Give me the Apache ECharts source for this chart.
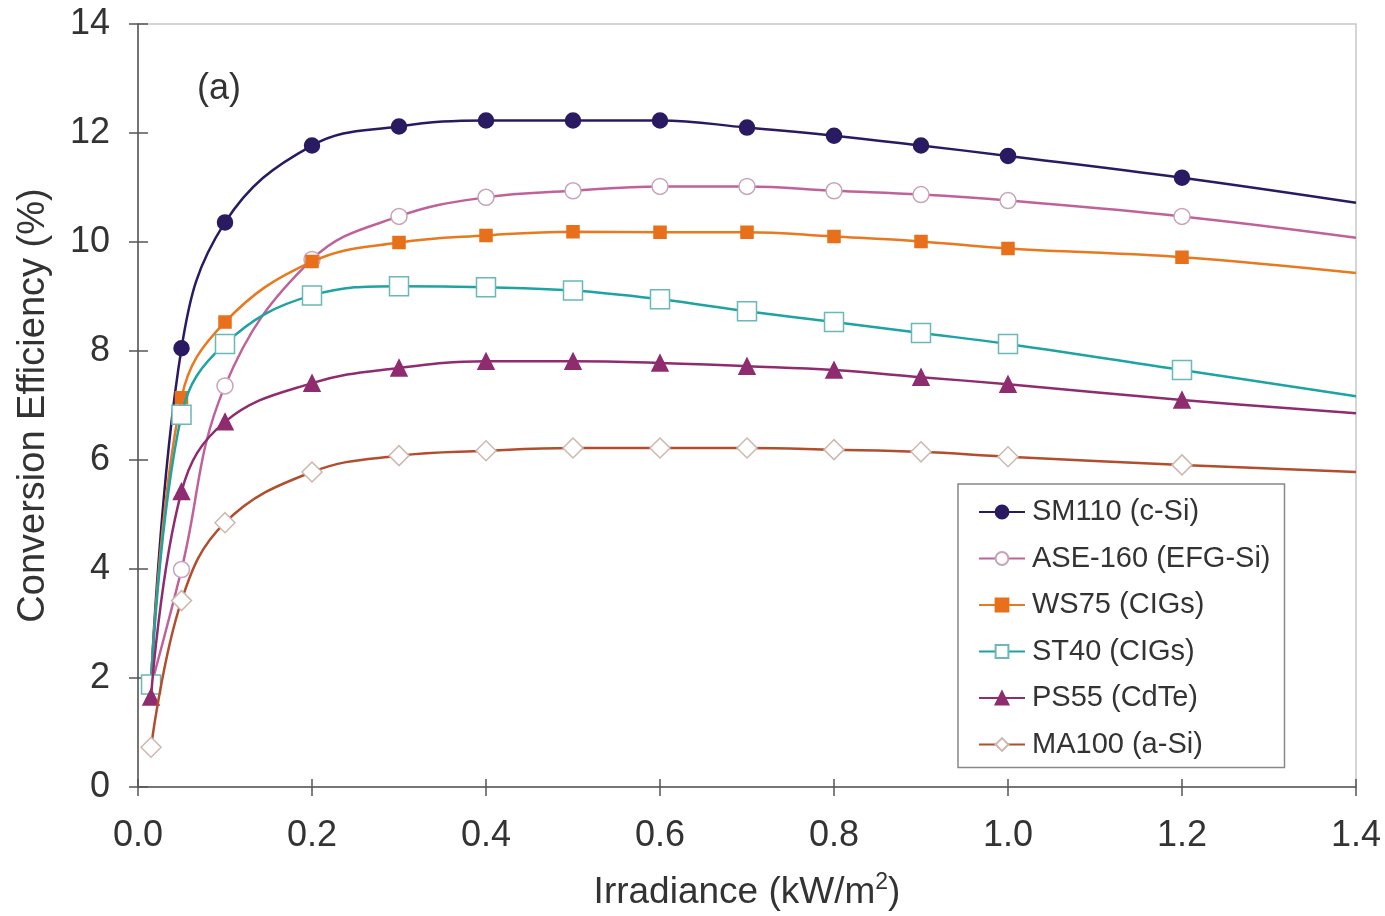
<!DOCTYPE html>
<html><head><meta charset="utf-8">
<script src="https://cdn.jsdelivr.net/npm/echarts@6/dist/echarts.min.js"></script>
<style>html,body{margin:0;padding:0;background:#fff}#c{width:1385px;height:916px}</style>
</head><body><div id="c"></div>
<script>
const irradiance = [0.015, 0.05, 0.1, 0.2, 0.3, 0.4, 0.5, 0.6, 0.7, 0.8, 0.9, 1.0, 1.2, 1.4];
const sm110 = [1.9, 8.05, 10.36, 11.77, 12.12, 12.23, 12.23, 12.23, 12.1, 11.95, 11.77, 11.58, 11.18, 10.72];
const ase160 = [1.85, 3.99, 7.36, 9.68, 10.47, 10.82, 10.94, 11.02, 11.02, 10.94, 10.87, 10.76, 10.47, 10.08];
const ws75 = [1.9, 7.14, 8.53, 9.64, 9.99, 10.12, 10.19, 10.18, 10.18, 10.1, 10.01, 9.88, 9.72, 9.43];
const st40 = [1.88, 6.83, 8.13, 9.02, 9.19, 9.17, 9.11, 8.95, 8.73, 8.53, 8.33, 8.13, 7.65, 7.17];
const ps55 = [1.65, 5.42, 6.7, 7.41, 7.69, 7.81, 7.81, 7.78, 7.72, 7.65, 7.52, 7.39, 7.1, 6.86];
const ma100 = [0.73, 3.42, 4.85, 5.78, 6.08, 6.17, 6.22, 6.22, 6.22, 6.19, 6.15, 6.06, 5.91, 5.78];
const seriesNames = ['SM110 (c-Si)', 'ASE-160 (EFG-Si)', 'WS75 (CIGs)', 'ST40 (CIGs)', 'PS55 (CdTe)', 'MA100 (a-Si)'];

const FONT = '"Liberation Sans", Arial, sans-serif';
const styles = [
  {line:'#2a1a62', symbol:'circle', size:15, fill:'#2a1a62', border:'#2a1a62'},
  {line:'#c0629a', symbol:'circle', size:16, fill:'#ffffff', border:'#c8a3b9'},
  {line:'#e8791f', symbol:'rect', size:12, fill:'#e8701a', border:'#e8701a'},
  {line:'#1ea3a3', symbol:'rect', size:19, fill:'#ffffff', border:'#6ab8b8'},
  {line:'#8f2c6f', symbol:'triangle', size:16, fill:'#8f2c6f', border:'#8f2c6f'},
  {line:'#b24d2d', symbol:'diamond', size:20, fill:'#ffffff', border:'#cdb8b0'}
];
const allData = [sm110, ase160, ws75, st40, ps55, ma100];

function buildData(vals){
  return irradiance.map((x,i)=> i === irradiance.length-1
    ? {value:[x, vals[i]], symbol:'none'}
    : [x, vals[i]]);
}

const series = allData.map((vals, k) => ({
  name: seriesNames[k],
  type: 'line',
  data: buildData(vals),
  smooth: 0.4,
  showAllSymbol: true,
  symbol: styles[k].symbol,
  symbolSize: styles[k].size,
  lineStyle: {color: styles[k].line, width: 2.5},
  itemStyle: {color: styles[k].fill, borderColor: styles[k].border, borderWidth: 1.5},
  emphasis: {disabled: true},
  xAxisIndex: 0, yAxisIndex: 0,
  z: 2 + k
}));

const chart = echarts.init(document.getElementById('c'), null, {renderer:'canvas'});
chart.setOption({
  animation: false,
  backgroundColor: '#ffffff',
  textStyle: {fontFamily: FONT},
  grid: {left: 138, right: 29, top: 24, bottom: 127, show: true, borderColor: '#c8c8c8', borderWidth: 1.5},
  legend: {
    show: true,
    orient: 'vertical',
    left: 958, top: 484,
    padding: [12, 14, 7, 20],
    itemWidth: 46, itemHeight: 16,
    itemGap: 14.5,
    borderColor: '#888888', borderWidth: 1.5,
    backgroundColor: '#ffffff',
    textStyle: {fontFamily: FONT, fontSize: 29, color: '#333333', lineHeight: 32, padding:[0,0,0,2]},
    data: seriesNames
  },
  graphic: [{
    type: 'text', left: 197, top: 71,
    style: {text: '(a)', font: '36px ' + FONT, fill: '#333333'}
  }],
  xAxis: [{
    type: 'value', min: 0, max: 1.4, interval: 0.2,
    axisLine: {show: true, lineStyle: {color: '#555555', width: 1.5}},
    axisTick: {show: true, length: 9, lineStyle: {color: '#555555', width: 1.5}},
    splitLine: {show: false},
    axisLabel: {fontSize: 36, color: '#333333', margin: 31, fontFamily: FONT,
      formatter: v => v.toFixed(1)},
    name: 'Irradiance (kW/m{sup|2})',
    nameLocation: 'middle', nameGap: 84,
    nameTextStyle: {fontSize: 37, color: '#333333', fontFamily: FONT,
      rich: {sup: {fontSize: 23, color: '#333333', fontFamily: FONT, verticalAlign: 'top', padding:[0,0,20,0]}}}
  }, {
    type: 'value', min: 0, max: 1.4, interval: 0.2, position: 'bottom',
    axisLine: {show: false},
    axisTick: {show: true, inside: true, length: 8, lineStyle: {color: '#555555', width: 1.5}},
    axisLabel: {show: false}, splitLine: {show: false}
  }],
  yAxis: [{
    type: 'value', min: 0, max: 14, interval: 2,
    axisLine: {show: true, lineStyle: {color: '#555555', width: 1.5}},
    axisTick: {show: true, length: 9, lineStyle: {color: '#555555', width: 1.5}},
    splitLine: {show: false},
    axisLabel: {fontSize: 36, color: '#333333', margin: 28, fontFamily: FONT},
    name: 'Conversion Efficiency (%)',
    nameLocation: 'middle', nameGap: 85,
    nameTextStyle: {fontSize: 38, color: '#333333', fontFamily: FONT}
  }, {
    type: 'value', min: 0, max: 14, interval: 2, position: 'left',
    axisLine: {show: false},
    axisTick: {show: true, inside: true, length: 10, lineStyle: {color: '#555555', width: 1.5}},
    axisLabel: {show: false}, splitLine: {show: false}
  }],
  series: series
});
</script>
</body></html>
